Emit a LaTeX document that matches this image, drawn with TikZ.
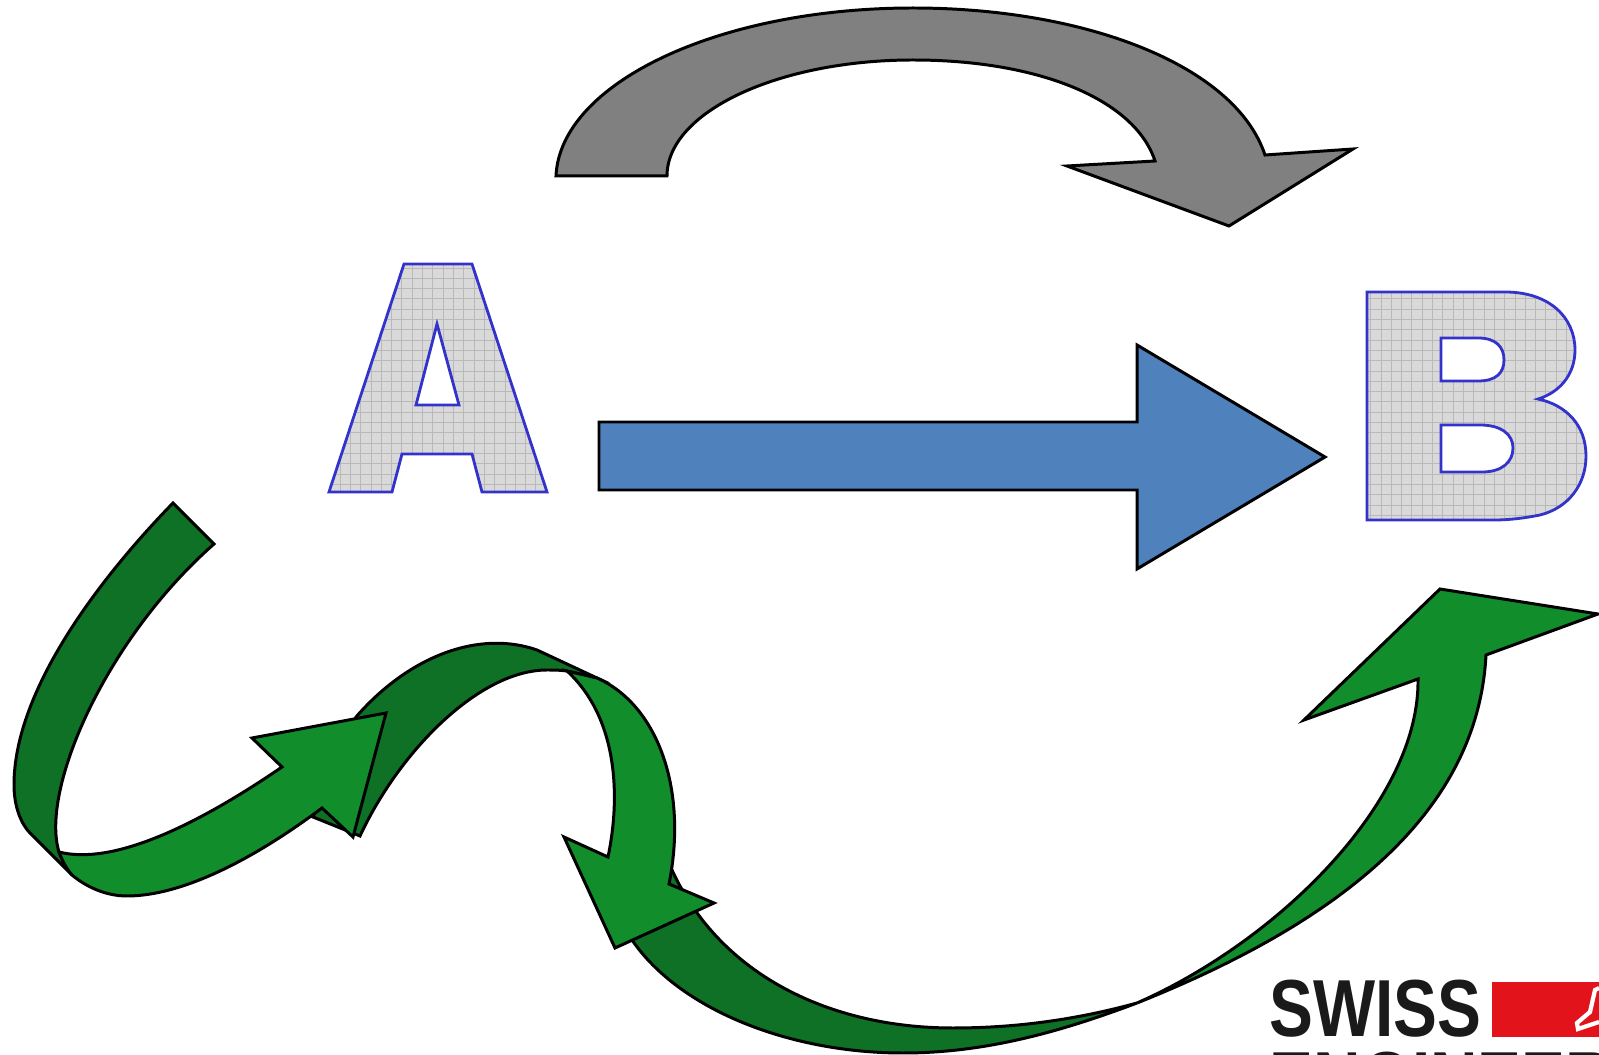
\documentclass[tikz,border=0pt]{standalone}
\usepackage{fontspec}
\setmainfont{Liberation Sans}
\definecolor{greenlight}{HTML}{118D2B}
\definecolor{greendark}{HTML}{0E7125}
\definecolor{arrowblue}{HTML}{4F81BD}
\definecolor{arrowgray}{HTML}{808080}
\definecolor{letterblue}{HTML}{3333CC}
\definecolor{logored}{HTML}{E3131B}
\definecolor{logoblack}{HTML}{1A1A1A}
\tikzset{
  band/.style={draw=black,line width=0.85pt,line join=miter},
  lightband/.style={band,fill=greenlight},
  darkband/.style={band,fill=greendark},
  letterline/.style={draw=letterblue,line width=0.8pt,line join=miter},
  logotext/.style={inner sep=0pt,text=logoblack,font=\bfseries\fontsize{23}{23}\selectfont},
}
\newcommand{\letterA}{(404,264) -- (472,264) -- (547,492) -- (482,492) -- (472,454) -- (402,454) -- (392,492) -- (329,492) -- cycle}
\newcommand{\letterB}{(1367,292) -- (1505,292) .. controls (1550,292) and (1575,318) .. (1575,350) .. controls (1575,376) and (1558,393) .. (1538,399) .. controls (1566,405) and (1586,425) .. (1586,456) .. controls (1586,485) and (1568,508) .. (1540,515) .. controls (1525,518) and (1510,520) .. (1494,520) -- (1367,520) -- cycle}
\begin{document}
\begin{tikzpicture}[x=0.01cm,y=-0.01cm]
  \useasboundingbox (0,0) rectangle (1599,1055);
  \clip (0,0) rectangle (1599,1055);

  % gray arrow
  \draw[band,fill=arrowgray] (556,176) .. controls (560,84) and (717,8) .. (913,8)
     .. controls (1085,8) and (1235,65) .. (1265,155) -- (1353,149) -- (1229,226) -- (1067,166) -- (1155,161)
     .. controls (1135,100) and (1040,60) .. (913,60)
     .. controls (778,60) and (667,112) .. (667,176) -- cycle;

  % blue arrow
  \draw[band,fill=arrowblue] (599,422) -- (1137,422) -- (1137,345) -- (1325,457) -- (1137,569) -- (1137,490) -- (599,490) -- cycle;

  % letters
  \fill[gray!30] \letterA;
  \begin{scope}
    \clip \letterA;
    \draw[gray!55,line width=0.25pt,step=0.103cm] (300,250) grid (560,500);
  \end{scope}
  \draw[letterline] \letterA;
  \draw[letterline,fill=white] (437,324) -- (459,405) -- (416,405) -- cycle;

  \fill[gray!30] \letterB;
  \begin{scope}
    \clip \letterB;
    \draw[gray!55,line width=0.25pt,step=0.103cm] (1360,285) grid (1590,525);
  \end{scope}
  \draw[letterline] \letterB;
  \draw[letterline,fill=white] (1441,338) -- (1478,338) .. controls (1496,338) and (1504,347) .. (1504,360)
     .. controls (1504,373) and (1496,381) .. (1478,381) -- (1441,381) -- cycle;
  \draw[letterline,fill=white] (1441,425) -- (1480,425) .. controls (1502,425) and (1513,435) .. (1513,448)
     .. controls (1513,462) and (1502,472) .. (1482,472) -- (1441,472) -- cycle;

  % green ribbon, dark parts first
  \draw[darkband] (173,503) .. controls (100,578) and (14,690) .. (14,785)
     .. controls (14,808) and (22,825) .. (30,833) -- (72,875)
     .. controls (66,868) and (62,860) .. (59,852)
     .. controls (40,790) and (105,640) .. (214,544) -- cycle;

  \draw[darkband] (313,817) -- (360,836) .. controls (400,750) and (480,670) .. (547,670)
     .. controls (553,670) and (560,670) .. (567,671) -- (597,678) -- (537,650)
     .. controls (480,630) and (410,655) .. (356,717) -- cycle;

  \draw[darkband] (632,940) .. controls (680,1010) and (790,1053) .. (903,1053)
     .. controls (985,1053) and (1060,1032) .. (1137,1003)
     .. controls (1075,1020) and (1015,1028) .. (953,1028)
     .. controls (830,1028) and (720,975) .. (672,870) -- cycle;

  % green ribbon, light parts
  \draw[lightband] (59,852) .. controls (110,865) and (190,830) .. (282,767)
     -- (252,738) -- (386,713) -- (353,837) -- (322,808)
     .. controls (250,862) and (180,896) .. (127,896)
     .. controls (105,896) and (85,886) .. (72,875)
     .. controls (66,868) and (62,860) .. (59,852) -- cycle;

  \draw[lightband] (567,671) .. controls (615,715) and (622,790) .. (608,857)
     -- (564,837) -- (615,948) -- (714,903) -- (669,884)
     .. controls (688,790) and (658,705) .. (597,678) -- cycle;

  \draw[lightband] (1137,1003) .. controls (1280,940) and (1420,800) .. (1418,679)
     -- (1304,720) -- (1440,589) -- (1598,614) -- (1486,655)
     .. controls (1478,810) and (1345,920) .. (1137,1003) -- cycle;

  % logo
  \node[logotext,anchor=base west] (swiss) at (1269,1037) {\scalebox{.813}[1]{SWISS}};
  \node[logotext,anchor=base west] (engineer) at (1269,1108) {\scalebox{.813}[1]{ENGINEERING}};
  \fill[logored] (1492,982) rectangle (1599,1037);
  \draw[white,line width=1.2pt] (1599,1022) -- (1578,1029) -- (1577,1023) -- (1590,1012) -- (1595,990) -- (1599,988);
\end{tikzpicture}
\end{document}
